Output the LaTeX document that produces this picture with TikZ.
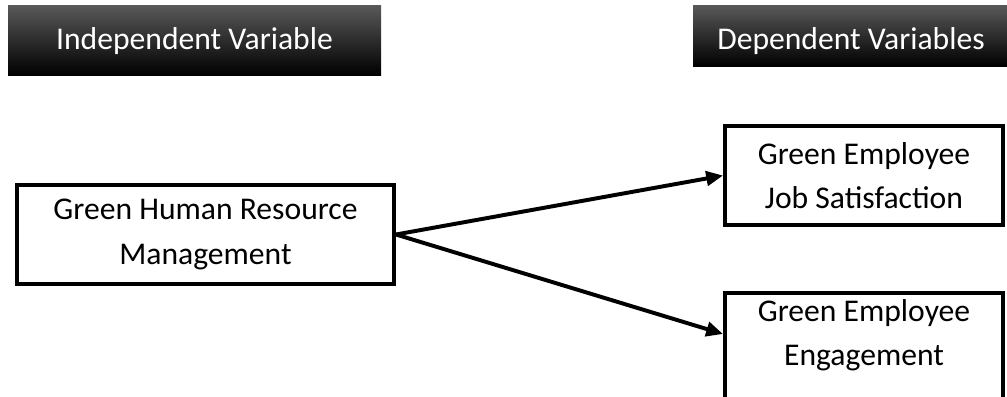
\documentclass[tikz,border=0pt]{standalone}
\usepackage{fontspec}
\setmainfont{Carlito}
\usetikzlibrary{arrows.meta}

\tikzset{
  hdr/.style={top color=black!65, middle color=black, bottom color=black, text=white, inner sep=0pt},
  varbox/.style={draw, line width=2.8pt, align=center, minimum height=2.475cm},
  link/.style={line width=2.8pt, -{Triangle[length=0.42cm,width=0.36cm]}}
}

\begin{document}
\begin{tikzpicture}[font=\fontsize{22.5}{31.5}\selectfont]
\useasboundingbox (0,0) rectangle (25.175,-9.9);
\node[hdr, minimum width=9.325cm, minimum height=1.75cm, text height=0.6cm, text depth=0.12cm] (indep) at (4.8625,-1) {Independent Variable};
\node[hdr, minimum width=7.9cm, minimum height=1.525cm, text height=0.8cm, text depth=0.12cm] (dep) at (21.275,-0.8875) {Dependent Variables};

\node[varbox, minimum width=9.425cm] (ghrm) at (5.1375,-5.8625) {Green Human Resource\\Management};
\node[varbox, minimum width=6.95cm] (jobsat) at (21.6,-4.3875) {Green Employee\\Job Satisfaction};
\node[varbox, anchor=north, minimum width=6.95cm, minimum height=3cm] (engage) at (21.6,-7.275) {};
\node[align=center] (engtxt) at (21.6,-8.38) {Green Employee\\Engagement};

\draw[link] (ghrm.east) -- (jobsat.west);
\draw[link] (ghrm.east) -- ([yshift=-1.075cm]engage.north west);

\end{tikzpicture}
\end{document}
